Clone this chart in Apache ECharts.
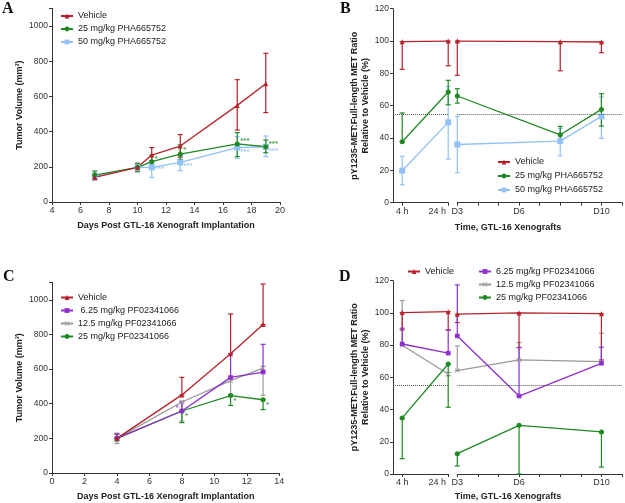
<!DOCTYPE html>
<html lang="en">
<head>
<meta charset="UTF-8"/>
<title>GTL-16 xenograft panels</title>
<script src="https://cdn.jsdelivr.net/npm/echarts@6/dist/echarts.min.js"></script>
<style>
  body { margin: 0; background: #fff; }
  #main { width: 625px; height: 503px; }
</style>
</head>
<body>
<div id="main"></div>
<script type="text/javascript">
// ---- panel A: tumor volume, PHA665752 ----
var daysA = [7, 10, 11, 13, 17, 19];
var vehA = [140, 197, 267, 318, 549, 672];
var vehALo = [125, 172, 235, 255, 409, 508];
var vehAHi = [147, 220, 309, 383, 695, 845];
var pha25A = [153, 197, 229, 272, 330, 314];
var pha25ALo = [130, 175, 205, 242, 258, 280];
var pha25AHi = [176, 218, 267, 325, 394, 352];
var pha50A = [145, 197, 197, 225, 309, 314];
var pha50ALo = [125, 173, 140, 178, 248, 258];
var pha50AHi = [165, 218, 215, 265, 371, 375];
var starsA25 = [[11, 248, '*'], [13, 295, '*'], [17, 350, '***'], [19, 328, '***']];
var starsA50 = [[11, 186, '***'], [13, 206, '***'], [17, 288, '***'], [19, 292, '***']];

// ---- panel B: pMET ratio, PHA665752 ----
var hourCats = [];
for (var h = 0; h <= 24; h++) hourCats.push(h + ' h');
var hoursB = ['4 h', '24 h'];
var daysB = [3, 8, 10];
var vehBh = [99.6, 100], vehBhLo = [82.5, 84.7];
var vehBd = [100, 99.6, 99.4], vehBdLo = [78.8, 81.6, 92.8];
var pha25Bh = [37.7, 68.5], pha25BhLo = [37.7, 60.6], pha25BhHi = [55.5, 75.7];
var pha25Bd = [66, 42, 57.7], pha25BdLo = [61.6, 38, 47.4], pha25BdHi = [70.5, 47.2, 67.4];
var pha50Bh = [19.8, 49.7], pha50BhLo = [11.1, 27], pha50BhHi = [28.7, 72];
var pha50Bd = [36, 38.1, 53.4], pha50BdLo = [18.6, 29, 39.8], pha50BdHi = [53.4, 46, 65.4];
var threshold = 55;

// ---- panel C: tumor volume, PF02341066 ----
var daysC = [4, 8, 11, 13];
var vehC = [200, 451, 689, 857], vehCHi = [225, 552, 918, 1091];
var pf6C = [200, 358, 552, 583], pf6CHi = [225, 410, 690, 743];
var pf12C = [200, 410, 533, 606], pf12CLo = [170, 300, 455, 448], pf12CHi = [230, 415, 540, 615];
var pf25C = [200, 358, 447, 423], pf25CLo = [185, 291, 390, 366];
var starsC25 = [[8, 333, '*'], [11, 419, '*'], [13, 394, '*']];
var starsC6 = [[8, 375, '*']];

// ---- panel D: pMET ratio, PF02341066 ----
var daysD = [3, 6, 10];
var vehDh = [100.2, 100.8], vehDhLo = [89.4, 89.4];
var vehDd = [99.2, 100, 99.5], vehDdLo = [94, 78.5, 70.8];
var pf6Dh = [80.7, 75], pf6DhHi = [90.5, 89.4];
var pf6Dd = [85.7, 48.4, 68.7], pf6DdHi = [117.4, 78.5, 78.7];
var pf12Dh = [79.9, 62.1], pf12DhLo = [79.9, 61], pf12DhHi = [107.7, 63];
var pf12Dd = [64.2, 70.8, 69.8], pf12DdHi = [79.5, 81.6, 87.4];
var pf25Dh = [34.8, 68.3], pf25DhLo = [9.5, 41.4];
var pf25Dd = [12.6, 30.2, 26.1], pf25DdLo = [5, 0, 4.3];

var dayLabels = { 3: 'D3', 6: 'D6', 10: 'D10' };

var RED = '#b8202a', GREEN = '#1f8a22', BLUE = '#92c1f5', PURPLE = '#8e2fd0', GRAY = '#9a9a9a';
var XMARK = 'path://M0,1 L1,0 L5,4 L9,0 L10,1 L6,5 L10,9 L9,10 L5,6 L1,10 L0,9 L4,5 Z';
var FONT = 'Liberation Sans';

var myChart = echarts.init(document.getElementById('main'));

function pts(xs, ys) {
    return xs.map(function (x, i) { return [x, ys[i]]; });
}

function lineS(name, xi, xs, ys, color, symbol, size) {
    return {
        name: name, type: 'line', xAxisIndex: xi, yAxisIndex: xi,
        data: pts(xs, ys), symbol: symbol, symbolSize: size, z: 3,
        lineStyle: { color: color, width: 1.3 },
        itemStyle: { color: color },
        animation: false
    };
}

// error bars drawn through the axis scales; lo/hi default to the value itself
function errS(xi, xs, ys, lo, hi, color) {
    return {
        type: 'custom', xAxisIndex: xi, yAxisIndex: xi, z: 2, silent: true,
        data: xs.map(function (x, i) {
            return [x, lo ? lo[i] : ys[i], hi ? hi[i] : ys[i]];
        }),
        encode: { x: 0, y: [1, 2] },
        renderItem: function (params, api) {
            var a = api.coord([api.value(0), api.value(1)]);
            var b = api.coord([api.value(0), api.value(2)]);
            var st = { stroke: color, lineWidth: 1.2 };
            var w = 2.5;
            return {
                type: 'group', children: [
                    { type: 'line', shape: { x1: a[0], y1: a[1], x2: b[0], y2: b[1] }, style: st },
                    { type: 'line', shape: { x1: a[0] - w, y1: a[1], x2: a[0] + w, y2: a[1] }, style: st },
                    { type: 'line', shape: { x1: b[0] - w, y1: b[1], x2: b[0] + w, y2: b[1] }, style: st }
                ]
            };
        },
        animation: false
    };
}

function starS(xi, data, color, pos) {
    return {
        type: 'scatter', xAxisIndex: xi, yAxisIndex: xi, symbolSize: 0, silent: true, z: 4,
        data: data,
        label: {
            show: true, position: pos || 'right', distance: 3,
            formatter: function (p) { return p.data[2]; },
            color: color, fontSize: 8, fontWeight: 'bold', fontFamily: FONT
        },
        animation: false
    };
}

function refLine(s) {
    s.markLine = {
        silent: true, symbol: 'none', label: { show: false }, animation: false,
        lineStyle: { type: 'dotted', color: '#555', width: 1 },
        data: [{ yAxis: threshold }]
    };
    return s;
}

var axisBase = {
    axisLine: { show: true, lineStyle: { color: '#333', width: 1 } },
    axisTick: { show: true, length: 3, lineStyle: { color: '#333' } },
    splitLine: { show: false },
    axisLabel: { fontSize: 8.5, color: '#333', margin: 4, fontFamily: FONT }
};
function ax(extra) {
    var o = JSON.parse(JSON.stringify(axisBase));
    for (var k in extra) {
        if (typeof extra[k] === 'object' && o[k] && !Array.isArray(extra[k])) {
            for (var j in extra[k]) o[k][j] = extra[k][j];
        } else {
            o[k] = extra[k];
        }
    }
    return o;
}
var nameStyle = { fontSize: 9, fontWeight: 'bold', color: '#222', fontFamily: FONT, lineHeight: 11 };
var volFmt = function (v) { return v > 1000 ? '' : v; };
var hourPick = function (i) { return i === 4 || i === 24; };
var hourFmt = function (v) {
    return v === '24 h' ? '{s|24 h}' : v;
};
var hourRich = { s: { fontSize: 9, color: '#333', fontFamily: FONT, padding: [0, 22, 0, 0] } };
var dayFmt = function (v) {
    return dayLabels[v] || '';
};

var legendBase = {
    orient: 'vertical', padding: 0, itemWidth: 12, itemHeight: 6, itemGap: 4,
    textStyle: { fontSize: 9, color: '#222', fontFamily: FONT }, selectedMode: false
};
function leg(extra) {
    var o = JSON.parse(JSON.stringify(legendBase));
    for (var k in extra) o[k] = extra[k];
    return o;
}

var option = {
    backgroundColor: '#fff',
    animation: false,
    grid: [
        { left: 52, top: 8.4, width: 228, height: 193.6, containLabel: false },
        { left: 393, top: 8.7, width: 55.2, height: 194, containLabel: false },
        { left: 457.3, top: 8.7, width: 165, height: 194, containLabel: false },
        { left: 52, top: 282.5, width: 227.3, height: 192.5, containLabel: false },
        { left: 393, top: 280.7, width: 55.2, height: 193.3, containLabel: false },
        { left: 457.3, top: 280.7, width: 165, height: 193.3, containLabel: false }
    ],
    xAxis: [
        ax({ gridIndex: 0, type: 'value', min: 4, max: 20, interval: 2,
             name: 'Days Post GTL-16 Xenograft Implantation', nameLocation: 'middle', nameGap: 18,
             nameTextStyle: nameStyle, axisLabel: { fontSize: 9 } }),
        ax({ gridIndex: 1, type: 'category', data: hourCats, boundaryGap: false,
             axisTick: { interval: hourPick }, axisLabel: { interval: hourPick, formatter: hourFmt, rich: hourRich, fontSize: 9 } }),
        ax({ gridIndex: 2, type: 'value', min: 3, max: 11, interval: 1,
             axisLabel: { formatter: dayFmt, fontSize: 9 } }),
        ax({ gridIndex: 3, type: 'value', min: 0, max: 14, interval: 2,
             name: 'Days Post GTL-16 Xenograft Implantation', nameLocation: 'middle', nameGap: 18,
             nameTextStyle: nameStyle, axisLabel: { fontSize: 9 } }),
        ax({ gridIndex: 4, type: 'category', data: hourCats, boundaryGap: false,
             axisTick: { interval: hourPick }, axisLabel: { interval: hourPick, formatter: hourFmt, rich: hourRich, fontSize: 9 } }),
        ax({ gridIndex: 5, type: 'value', min: 3, max: 11, interval: 1,
             axisLabel: { formatter: dayFmt, fontSize: 9 } })
    ],
    yAxis: [
        ax({ gridIndex: 0, type: 'value', min: 0, max: 1100, interval: 200,
             name: 'Tumor Volume (mm³)', nameLocation: 'middle', nameGap: 23, nameRotate: 90,
             nameTextStyle: nameStyle, axisLabel: { formatter: volFmt } }),
        ax({ gridIndex: 1, type: 'value', min: 0, max: 120, interval: 20,
             name: 'pY1235-MET:Full-length MET Ratio\nRelative to Vehicle (%)', nameLocation: 'middle',
             nameGap: 20, nameRotate: 90, nameTextStyle: nameStyle }),
        { gridIndex: 2, type: 'value', min: 0, max: 120, show: false },
        ax({ gridIndex: 3, type: 'value', min: 0, max: 1100, interval: 200,
             name: 'Tumor Volume (mm³)', nameLocation: 'middle', nameGap: 23, nameRotate: 90,
             nameTextStyle: nameStyle, axisLabel: { formatter: volFmt } }),
        ax({ gridIndex: 4, type: 'value', min: 0, max: 120, interval: 20,
             name: 'pY1235-MET:Full-length MET Ratio\nRelative to Vehicle (%)', nameLocation: 'middle',
             nameGap: 20, nameRotate: 90, nameTextStyle: nameStyle }),
        { gridIndex: 5, type: 'value', min: 0, max: 120, show: false }
    ],
    legend: [
        leg({ left: 60, top: 11.5, data: ['Vehicle', '25 mg/kg PHA665752', '50 mg/kg PHA665752'] }),
        leg({ left: 497, top: 157.5, itemGap: 5, data: ['Vehicle', '25 mg/kg PHA665752', '50 mg/kg PHA665752'] }),
        leg({ left: 60, top: 293, data: ['Vehicle', '6.25 mg/kg PF02341066', '12.5 mg/kg PF02341066', '25 mg/kg PF02341066'],
              formatter: function (n) { return n.indexOf('6.25') === 0 ? ' ' + n : n; } }),
        leg({ left: 407, top: 267, data: ['Vehicle'] }),
        leg({ left: 478, top: 267, data: ['6.25 mg/kg PF02341066', '12.5 mg/kg PF02341066', '25 mg/kg PF02341066'] })
    ],
    graphic: [
        { type: 'text', x: 2, y: 1, style: { text: 'A', font: 'bold 16px "Liberation Serif"', fill: '#111' } },
        { type: 'text', x: 340, y: 1, style: { text: 'B', font: 'bold 16px "Liberation Serif"', fill: '#111' } },
        { type: 'text', x: 3, y: 269, style: { text: 'C', font: 'bold 16px "Liberation Serif"', fill: '#111' } },
        { type: 'text', x: 339, y: 269, style: { text: 'D', font: 'bold 16px "Liberation Serif"', fill: '#111' } },
        { type: 'text', x: 508, y: 228, style: { text: 'Time, GTL-16 Xenografts', align: 'center', verticalAlign: 'middle',
          font: 'bold 9px "Liberation Sans"', fill: '#222' } },
        { type: 'text', x: 508, y: 497, style: { text: 'Time, GTL-16 Xenografts', align: 'center', verticalAlign: 'middle',
          font: 'bold 9px "Liberation Sans"', fill: '#222' } }
    ],
    series: [
        // A
        errS(0, daysA, vehA, vehALo, vehAHi, RED),
        errS(0, daysA, pha50A, pha50ALo, pha50AHi, BLUE),
        errS(0, daysA, pha25A, pha25ALo, pha25AHi, GREEN),
        lineS('50 mg/kg PHA665752', 0, daysA, pha50A, BLUE, 'rect', 6),
        lineS('25 mg/kg PHA665752', 0, daysA, pha25A, GREEN, 'circle', 5),
        lineS('Vehicle', 0, daysA, vehA, RED, 'triangle', 5),
        starS(0, starsA25, GREEN),
        starS(0, starsA50, BLUE),
        // B early
        errS(1, hoursB, vehBh, vehBhLo, null, RED),
        errS(1, hoursB, pha50Bh, pha50BhLo, pha50BhHi, BLUE),
        errS(1, hoursB, pha25Bh, pha25BhLo, pha25BhHi, GREEN),
        lineS('50 mg/kg PHA665752', 1, hoursB, pha50Bh, BLUE, 'rect', 6),
        lineS('25 mg/kg PHA665752', 1, hoursB, pha25Bh, GREEN, 'circle', 5),
        refLine(lineS('Vehicle', 1, hoursB, vehBh, RED, 'triangle', 5)),
        // B late
        errS(2, daysB, vehBd, vehBdLo, null, RED),
        errS(2, daysB, pha50Bd, pha50BdLo, pha50BdHi, BLUE),
        errS(2, daysB, pha25Bd, pha25BdLo, pha25BdHi, GREEN),
        lineS('50 mg/kg PHA665752', 2, daysB, pha50Bd, BLUE, 'rect', 6),
        lineS('25 mg/kg PHA665752', 2, daysB, pha25Bd, GREEN, 'circle', 5),
        refLine(lineS('Vehicle', 2, daysB, vehBd, RED, 'triangle', 5)),
        // C
        errS(3, daysC, vehC, null, vehCHi, RED),
        errS(3, daysC, pf12C, pf12CLo, pf12CHi, GRAY),
        errS(3, daysC, pf6C, null, pf6CHi, PURPLE),
        errS(3, daysC, pf25C, pf25CLo, null, GREEN),
        lineS('12.5 mg/kg PF02341066', 3, daysC, pf12C, GRAY, XMARK, 5),
        lineS('25 mg/kg PF02341066', 3, daysC, pf25C, GREEN, 'circle', 5),
        lineS('6.25 mg/kg PF02341066', 3, daysC, pf6C, PURPLE, 'rect', 4.5),
        lineS('Vehicle', 3, daysC, vehC, RED, 'triangle', 5),
        starS(3, starsC25, GREEN),
        starS(3, starsC6, PURPLE, 'left'),
        // D early
        errS(4, hoursB, pf12Dh, pf12DhLo, pf12DhHi, GRAY),
        errS(4, hoursB, vehDh, vehDhLo, null, RED),
        errS(4, hoursB, pf6Dh, null, pf6DhHi, PURPLE),
        errS(4, hoursB, pf25Dh, pf25DhLo, null, GREEN),
        lineS('12.5 mg/kg PF02341066', 4, hoursB, pf12Dh, GRAY, XMARK, 5),
        lineS('6.25 mg/kg PF02341066', 4, hoursB, pf6Dh, PURPLE, 'rect', 4.5),
        lineS('25 mg/kg PF02341066', 4, hoursB, pf25Dh, GREEN, 'circle', 5),
        refLine(lineS('Vehicle', 4, hoursB, vehDh, RED, 'triangle', 5)),
        // D late
        errS(5, daysD, pf12Dd, null, pf12DdHi, GRAY),
        errS(5, daysD, vehDd, vehDdLo, null, RED),
        errS(5, daysD, pf6Dd, null, pf6DdHi, PURPLE),
        errS(5, daysD, pf25Dd, pf25DdLo, null, GREEN),
        lineS('12.5 mg/kg PF02341066', 5, daysD, pf12Dd, GRAY, XMARK, 5),
        lineS('6.25 mg/kg PF02341066', 5, daysD, pf6Dd, PURPLE, 'rect', 4.5),
        lineS('25 mg/kg PF02341066', 5, daysD, pf25Dd, GREEN, 'circle', 5),
        refLine(lineS('Vehicle', 5, daysD, vehDd, RED, 'triangle', 5))
    ]
};

myChart.setOption(option);
</script>
</body>
</html>
